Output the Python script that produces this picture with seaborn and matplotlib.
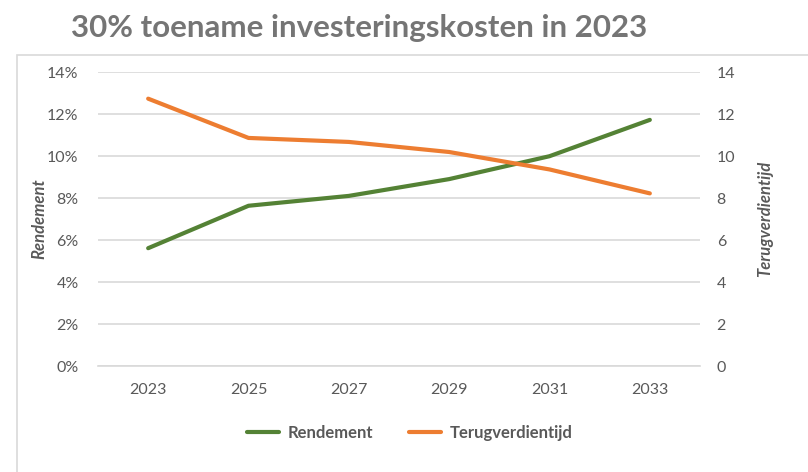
import matplotlib
matplotlib.use("Agg")
import matplotlib.pyplot as plt
import seaborn as sns
import pandas as pd
from matplotlib.patches import Rectangle
from matplotlib.lines import Line2D
from matplotlib.ticker import FuncFormatter

# ===================== 数据 =====================
jaren = ["2023", "2025", "2027", "2029", "2031", "2033"]
rendement = [0.0561, 0.0763, 0.0810, 0.0890, 0.0999, 0.1172]
terugverdientijd = [12.73, 10.86, 10.67, 10.19, 9.36, 8.22]

df = pd.DataFrame({"jaar": jaren, "rendement": rendement, "terug": terugverdientijd})
df["pos"] = range(len(df))

groen = "#548235"
oranje = "#ED7D31"
tekst = "#595959"
grid = "#D9D9D9"

sns.set_theme(style="white")
plt.rcParams["font.family"] = ["Lato", "DejaVu Sans"]

fig = plt.figure(figsize=(8.08, 4.72), dpi=100)
ax = fig.add_axes([98 / 808, 1 - 366 / 472, 602 / 808, 294 / 472])
ax2 = ax.twinx()

# 外框
fig.patches.append(Rectangle((17 / 808, -0.05), 1.0, 1 - 55 / 472 + 0.05,
                             transform=fig.transFigure, fill=False,
                             edgecolor=grid, linewidth=1.2))

sns.lineplot(data=df, x="pos", y="rendement", ax=ax, color=groen, linewidth=3,
             legend=False)
sns.lineplot(data=df, x="pos", y="terug", ax=ax2, color=oranje, linewidth=3,
             legend=False)
for l in ax.lines + ax2.lines:
    l.set_solid_capstyle("round")

ax.set_ylim(0, 0.14)
ax2.set_ylim(0, 14)
ax.set_yticks([i / 100 for i in range(0, 15, 2)])
ax2.set_yticks(range(0, 15, 2))
ax.yaxis.set_major_formatter(FuncFormatter(lambda v, p: f"{v * 100:.0f}%"))
ax.set_xlim(-0.5, len(jaren) - 0.5)
ax.set_xticks(df["pos"])
ax.set_xticklabels(jaren)

ax.grid(axis="y", color=grid, linewidth=1.2)
ax.set_axisbelow(True)
for a in (ax, ax2):
    for s in a.spines.values():
        s.set_visible(False)
    a.tick_params(length=0, labelsize=11.5, colors=tekst, pad=8)
ax.spines["bottom"].set_visible(True)
ax.spines["bottom"].set_color(grid)
ax.spines["bottom"].set_linewidth(1.2)
ax.tick_params(axis="x", pad=12)
ax.tick_params(axis="y", pad=14)
ax2.tick_params(axis="y", pad=12)

ax.set_xlabel("")
ax.set_ylabel("Rendement", fontsize=12, style="italic", fontweight="bold",
              color=tekst, labelpad=0)
ax2.set_ylabel("Terugverdientijd", fontsize=12, style="italic", fontweight="bold",
               color=tekst, labelpad=16)

fig.text(0.444, 1 - 28 / 472, "30% toename investeringskosten in 2023", ha="center",
         va="center", fontsize=22.5, fontweight="bold", color="#757575")

handles = [Line2D([], [], color=groen, linewidth=3),
           Line2D([], [], color=oranje, linewidth=3)]
fig.legend(handles, ["Rendement", "Terugverdientijd"], loc="center",
           bbox_to_anchor=(0.507, 1 - 433 / 472), ncol=2, frameon=False,
           labelcolor=tekst, handlelength=1.9, handletextpad=0.5,
           columnspacing=2.2, prop={"weight": "bold", "size": 12})

fig.savefig("out.png", dpi=100)
